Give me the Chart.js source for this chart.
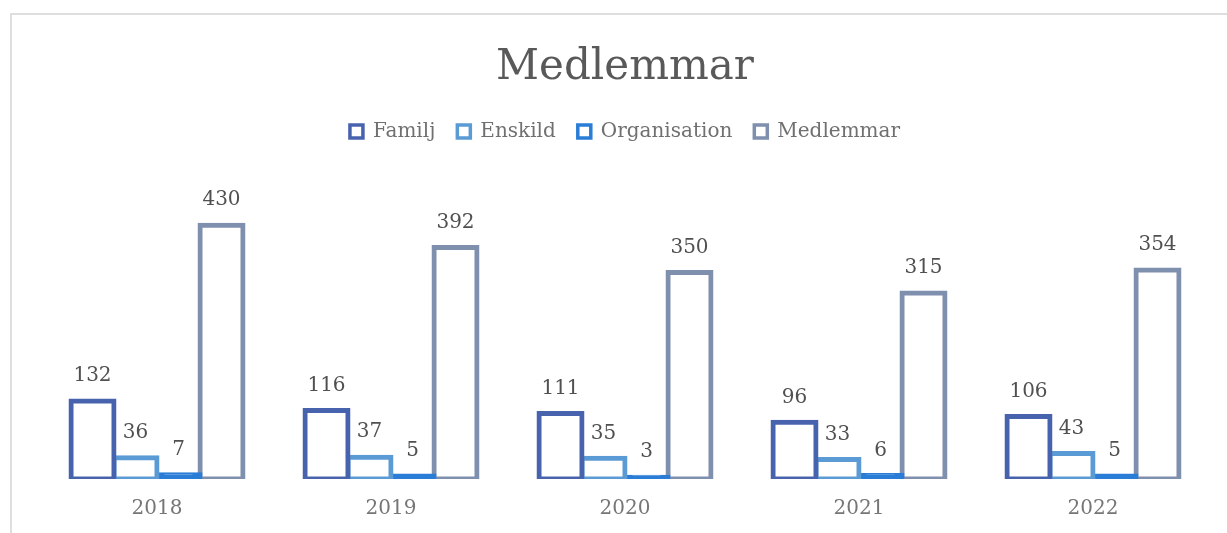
<!DOCTYPE html>
<html>
<head>
<meta charset="utf-8">
<script src="https://cdn.jsdelivr.net/npm/chart.js@4/dist/chart.umd.min.js"></script>
<style>
    html, body { margin: 0; padding: 0; background: #fff; overflow: hidden; width: 1227px; height: 533px; }
    .frame { position: absolute; left: 10px; top: 13px; width: 1240px; height: 540px; border-left: 2px solid #dedede; border-top: 2px solid #dedede; }
    .wrap { position: absolute; left: 10px; top: 13px; width: 1230px; height: 520px; }
</style>
</head>
<body>
<div class="frame"></div>
<div class="wrap"><canvas id="medlemChart"></canvas></div>
<script>
const years = ['2018', '2019', '2020', '2021', '2022'];
const familj = [132, 116, 111, 96, 106];
const enskild = [36, 37, 35, 33, 43];
const organisation = [7, 5, 3, 6, 5];
const medlemmar = [430, 392, 350, 315, 354];

const serif = 'DejaVu Serif';

// value labels above each bar (no datalabels plugin offline)
const barLabels = {
    id: 'barLabels',
    afterDatasetsDraw(chart) {
        const ctx = chart.ctx;
        ctx.save();
        ctx.font = '20px "' + serif + '"';
        ctx.fillStyle = '#505050';
        ctx.textAlign = 'center';
        ctx.textBaseline = 'middle';
        chart.data.datasets.forEach((ds, i) => {
            const meta = chart.getDatasetMeta(i);
            if (meta.hidden) return;
            meta.data.forEach((bar, j) => {
                ctx.fillText(ds.data[j], bar.x, bar.y - 25);
            });
        });
        ctx.restore();
    }
};

// excel style: border centred on the bar edge, so inflate the rect
function makeSet(label, data, color, fill) {
    return {
        label: label,
        data: data,
        backgroundColor: fill || '#ffffff',
        borderColor: color,
        borderWidth: 5,
        borderSkipped: false,
        inflateAmount: 2.5,
        barPercentage: 1,
        categoryPercentage: 0.735
    };
}

const ctx = document.getElementById('medlemChart').getContext('2d');

const chart = new Chart(ctx, {
    type: 'bar',
    data: {
        labels: years,
        datasets: [
            makeSet('Familj', familj, '#4863ae'),
            makeSet('Enskild', enskild, '#5b9bd5'),
            // tiny bars: the border swallows the whole bar
            makeSet('Organisation', organisation, '#2a7dd6', '#2a7dd6'),
            makeSet('Medlemmar', medlemmar, '#7f8fae')
        ]
    },
    options: {
        responsive: true,
        maintainAspectRatio: false,
        animation: false,
        layout: { padding: { left: 30, right: 30, top: 0, bottom: 0 } },
        plugins: {
            title: {
                display: true,
                text: 'Medlemmar',
                color: '#595959',
                font: { family: serif, size: 42, weight: 'normal' },
                padding: { top: 30, bottom: 6 }
            },
            legend: {
                labels: {
                    generateLabels: function (chart) {
                        return chart.data.datasets.map((ds, i) => ({
                            text: ds.label,
                            fillStyle: '#ffffff',
                            strokeStyle: ds.borderColor,
                            fontColor: '#707070',
                            lineWidth: 3.5,
                            hidden: !chart.isDatasetVisible(i),
                            datasetIndex: i
                        }));
                    },
                    boxWidth: 13,
                    boxHeight: 13,
                    padding: 22,
                    color: '#707070',
                    font: { family: serif, size: 20 }
                }
            },
            tooltip: { enabled: false }
        },
        scales: {
            x: {
                grid: { display: false, drawTicks: false, tickLength: 0 },
                border: { display: false },
                ticks: {
                    color: '#767676',
                    padding: 18,
                    font: { family: serif, size: 20 }
                },
                afterFit: function (scale) { scale.height = 54; }
            },
            y: {
                display: false,
                min: 0,
                max: 555
            }
        }
    },
    plugins: [barLabels]
});
</script>
</body>
</html>
